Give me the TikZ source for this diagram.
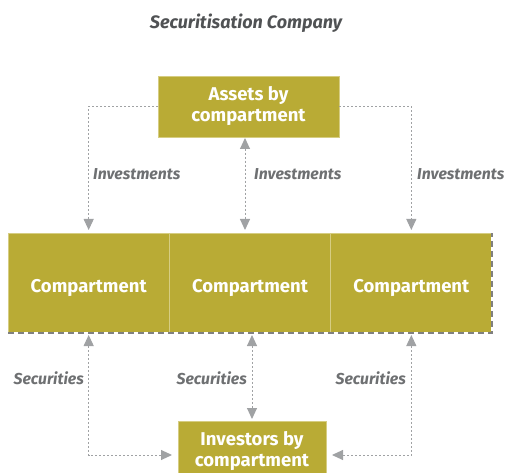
\documentclass[tikz,border=0pt]{standalone}
\usepackage{fontspec}
\setmainfont{Fira Sans}
\usetikzlibrary{arrows.meta}

\definecolor{olive}{RGB}{185,171,53}
\definecolor{oliveline}{RGB}{214,205,130}
\definecolor{arrowgray}{RGB}{160,162,164}
\definecolor{labelgray}{RGB}{110,112,114}
\definecolor{titlegray}{RGB}{80,82,84}

\begin{document}
\begin{tikzpicture}[x=1pt, y=-1pt,
  box/.style={fill=olive, draw=oliveline, line width=0.6pt, text=white,
    execute at begin node=\rule{0pt}{19pt},
    font=\fontsize{18.5}{21}\selectfont\bfseries, align=center, inner sep=0pt, outer sep=0pt},
  compbox/.style={box, minimum width=161.33pt, minimum height=100pt, text height=19pt, text depth=0pt},
  flow/.style={draw=arrowgray, line width=1pt, dash pattern=on 2pt off 2pt,
    {Triangle[length=11pt,width=10pt]}-{Triangle[length=11pt,width=10pt]}},
  flowin/.style={draw=arrowgray, line width=1pt, dash pattern=on 2pt off 2pt,
    -{Triangle[length=11pt,width=10pt]}},
  lbl/.style={text=labelgray, font=\fontsize{15.8}{17}\selectfont\bfseries\itshape, inner sep=0pt}]
\useasboundingbox (0,0) rectangle (506,473);

\node[text=titlegray, font=\fontsize{18}{20}\selectfont\bfseries\itshape] (title) at (246,23) {Securitisation Company};

% boxes
\node[box, minimum width=181pt, minimum height=61pt] (assets) at (248.5,106.5) {Assets by\\compartment};
\node[compbox] (comp1) at (88.67,283) {Compartment};
\node[compbox] (comp2) at (250,283) {Compartment};
\node[compbox] (comp3) at (411.33,283) {Compartment};
\node[box, minimum width=148pt, minimum height=60pt] (investors) at (252,451) {Investors by\\compartment};

% band border
\draw[oliveline, line width=0.8pt, dash pattern=on 10pt off 4pt] (comp1.north west) -- (comp3.north east);
\draw[white, line width=2pt] (comp1.south west) -- (comp3.south east) -- (comp3.north east);
\draw[gray, line width=2pt, dash pattern=on 6pt off 4pt] (comp1.south west) -- (comp3.south east) -- (comp3.north east);

% investments
\draw[flowin, shorten >=3pt] (assets.west) -| (comp1.north);
\draw[flowin, shorten >=3pt] (assets.east) -| (comp3.north);
\draw[flow, shorten <=1pt, shorten >=3pt] ([xshift=-3.5pt]assets.south) -- ([xshift=-3.5pt]assets.south |- comp2.north);
\node[lbl, anchor=west] (inv1) at (93,174) {Investments};
\node[lbl, anchor=west] (inv2) at (254,174) {Investments};
\node[lbl, anchor=west] (inv3) at (417,174) {Investments};

% securities
\draw[flow, shorten <=2pt, shorten >=6pt] (comp1.south) |- ([yshift=-4pt]investors.west);
\draw[flow, shorten <=2pt, shorten >=6pt] (comp3.south) |- ([yshift=-4pt]investors.east);
\draw[flow, shorten <=2pt, shorten >=2pt] (investors.north |- comp2.south) -- (investors.north);
\node[lbl, anchor=east] (sec1) at (84,378) {Securities};
\node[lbl, anchor=east] (sec2) at (247,378) {Securities};
\node[lbl, anchor=east] (sec3) at (406,378) {Securities};
\end{tikzpicture}
\end{document}
